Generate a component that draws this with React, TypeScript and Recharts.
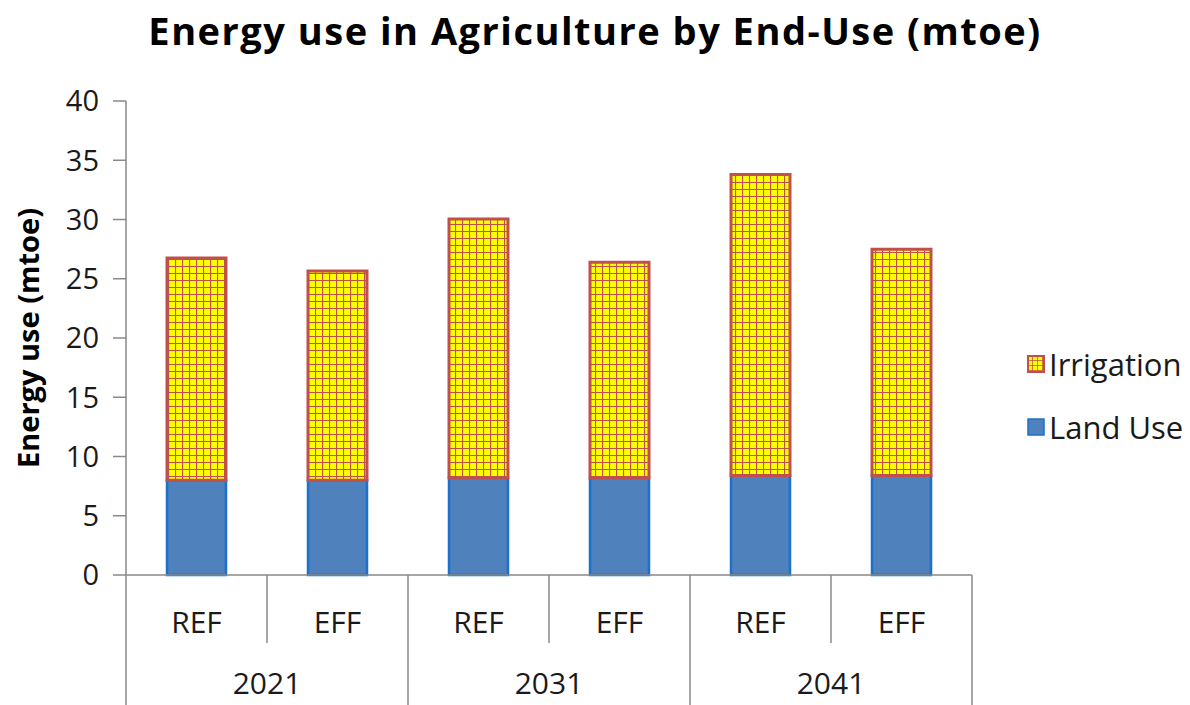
import { BarChart, Bar, XAxis, YAxis } from 'recharts';

const scenarios = ['REF', 'EFF', 'REF', 'EFF', 'REF', 'EFF'];
const years = ['2021', '2021', '2031', '2031', '2041', '2041'];
const landUse = [8.0, 8.0, 8.2, 8.2, 8.4, 8.4];
const irrigation = [18.75, 17.65, 21.85, 18.2, 25.4, 19.1];
const yTicks = [0, 5, 10, 15, 20, 25, 30, 35, 40];

const data = scenarios.map((scenario, i) => ({
    scenario,
    year: years[i],
    landUse: landUse[i],
    irrigation: irrigation[i],
}));

const WIDTH = 1190;
const HEIGHT = 705;
const Y_AXIS_W = 126;
const RIGHT_PAD = 218;
const X_AXIS_H = 130;
const BAND = (WIDTH - Y_AXIS_W - RIGHT_PAD) / scenarios.length;

const FONT = '"Open Sans", Lato, Calibri, sans-serif';
const TEXT = '#1a1a1a';
const AXIS_GREY = '#898989';
const YELLOW = '#FFFF00';
const GRID_RED = '#C0504D';
const BLUE = '#4F81BD';
const BLUE_EDGE = '#1B72CC';

interface TickProps {
    x: number;
    y: number;
    index: number;
    payload: { value: string };
}

// two-level category axis: scenario on the first row, year spanning two bars below
function CategoryTick({ x, y, index, payload }: TickProps) {
    const half = BAND / 2;
    const groupStart = index % 2 === 0;
    const last = index === scenarios.length - 1;
    return (
        <g>
            <line
                x1={x - half}
                x2={x - half}
                y1={y}
                y2={y + (groupStart ? X_AXIS_H : 68)}
                stroke={AXIS_GREY}
                strokeWidth={1.5}
            />
            {last && (
                <line
                    x1={x + half}
                    x2={x + half}
                    y1={y}
                    y2={y + X_AXIS_H}
                    stroke={AXIS_GREY}
                    strokeWidth={1.5}
                />
            )}
            <text
                x={x}
                y={y + 47}
                dy="0.36em"
                textAnchor="middle"
                fontSize={30}
                fontFamily={FONT}
                fill={TEXT}
            >
                {payload.value}
            </text>
            {groupStart && (
                <text
                    x={x + half}
                    y={y + 108}
                    dy="0.36em"
                    textAnchor="middle"
                    fontSize={30}
                    fontFamily={FONT}
                    fill={TEXT}
                >
                    {years[index]}
                </text>
            )}
        </g>
    );
}

function LegendBox() {
    const row = { display: 'flex', alignItems: 'center', height: 40 };
    return (
        <div
            style={{
                position: 'absolute',
                left: 1027,
                top: 344,
                fontFamily: FONT,
                fontSize: 31,
                color: TEXT,
            }}
        >
            <div style={row}>
                <svg width={18} height={18} style={{ marginRight: 4 }}>
                    <defs>
                        <pattern id="legendGrid" patternUnits="userSpaceOnUse" width={5} height={5}>
                            <rect width={5} height={5} fill={YELLOW} />
                            <path d="M0 0 H5 M0 0 V5" stroke={GRID_RED} strokeWidth={1.5} />
                        </pattern>
                    </defs>
                    <rect x={1} y={1} width={16} height={16} fill="url(#legendGrid)" stroke={GRID_RED} strokeWidth={2} />
                </svg>
                Irrigation
            </div>
            <div style={{ ...row, marginTop: 23 }}>
                <svg width={18} height={18} style={{ marginRight: 4 }}>
                    <rect x={1} y={1} width={16} height={16} fill={BLUE} stroke={BLUE_EDGE} strokeWidth={1.5} />
                </svg>
                Land Use
            </div>
        </div>
    );
}

export default function App() {
    return (
        <div
            style={{
                position: 'absolute',
                left: 0,
                top: 0,
                width: WIDTH,
                height: HEIGHT,
                background: '#fff',
                fontFamily: FONT,
            }}
        >
            <div
                style={{
                    position: 'absolute',
                    top: 5,
                    left: 0,
                    width: WIDTH,
                    textAlign: 'center',
                    fontSize: 38,
                    fontWeight: 700,
                    letterSpacing: 1.5,
                    lineHeight: '50px',
                    color: '#000',
                }}
            >
                Energy use in Agriculture by End-Use (mtoe)
            </div>
            <div
                style={{
                    position: 'absolute',
                    left: 28,
                    top: 338,
                    transform: 'translate(-50%, -50%) rotate(-90deg)',
                    whiteSpace: 'nowrap',
                    fontSize: 29,
                    fontWeight: 700,
                    lineHeight: '36px',
                    color: '#000',
                }}
            >
                Energy use (mtoe)
            </div>
            <BarChart
                width={WIDTH}
                height={HEIGHT}
                data={data}
                margin={{ top: 101, right: RIGHT_PAD, bottom: 0, left: 0 }}
                barSize={59}
            >
                <defs>
                    <pattern id="irrigationGrid" patternUnits="userSpaceOnUse" width={7} height={7}>
                        <rect width={7} height={7} fill={YELLOW} />
                        <path d="M0 0 H7 M0 0 V7" stroke={GRID_RED} strokeWidth={2.2} />
                    </pattern>
                </defs>
                <XAxis
                    dataKey="scenario"
                    height={X_AXIS_H}
                    interval={0}
                    tickSize={0}
                    tickMargin={0}
                    tickLine={false}
                    axisLine={{ stroke: AXIS_GREY, strokeWidth: 1.5 }}
                    tick={(props: TickProps) => <CategoryTick {...props} />}
                />
                <YAxis
                    width={Y_AXIS_W}
                    domain={[0, 40]}
                    ticks={yTicks}
                    interval={0}
                    tickSize={13}
                    tickMargin={14}
                    axisLine={{ stroke: AXIS_GREY, strokeWidth: 1.5 }}
                    tickLine={{ stroke: AXIS_GREY, strokeWidth: 1.5 }}
                    tick={{ fontSize: 29, fontFamily: FONT, fill: TEXT }}
                />
                <Bar
                    dataKey="landUse"
                    name="Land Use"
                    stackId="total"
                    fill={BLUE}
                    stroke={BLUE_EDGE}
                    strokeWidth={2.5}
                    isAnimationActive={false}
                />
                <Bar
                    dataKey="irrigation"
                    name="Irrigation"
                    stackId="total"
                    fill="url(#irrigationGrid)"
                    stroke={GRID_RED}
                    strokeWidth={3}
                    isAnimationActive={false}
                />
            </BarChart>
            <LegendBox />
        </div>
    );
}
